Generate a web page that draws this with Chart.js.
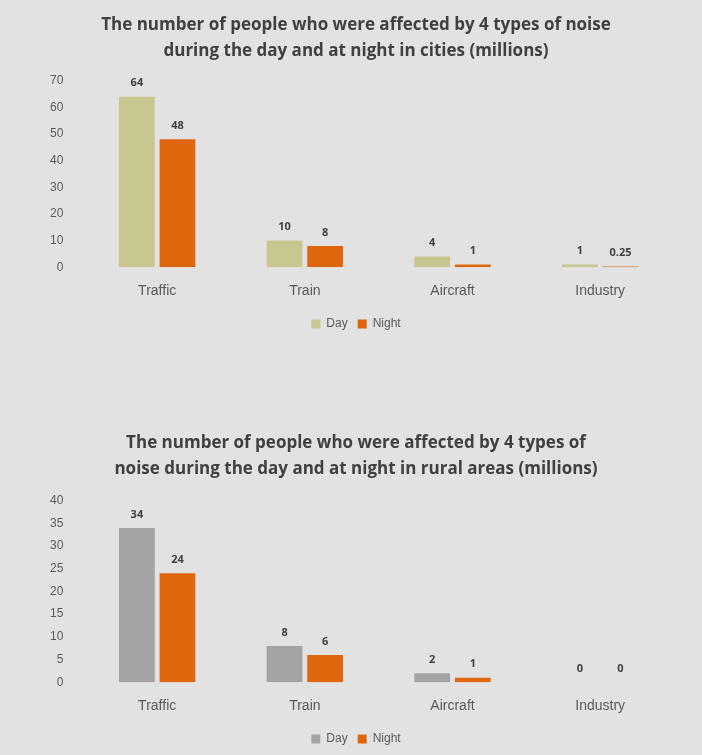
<!DOCTYPE html>
<html><head><meta charset="utf-8">
<script src="https://cdn.jsdelivr.net/npm/chart.js@4"></script>
<style>
body{margin:0;background:#e2e2e2;width:702px;height:755px;position:relative;overflow:hidden;font-family:"Open Sans",sans-serif}
.w{position:absolute;left:0;width:702px}
</style></head><body>
<div class="w" style="top:0;height:340px"><canvas id="c1"></canvas></div>
<div class="w" style="top:420px;height:335px"><canvas id="c2"></canvas></div>
<script>
const categories=["Traffic","Train","Aircraft","Industry"];
const cityDay=[64,10,4,1];
const cityNight=[48,8,1,0.25];
const ruralDay=[34,8,2,0];
const ruralNight=[24,6,1,0];
const cityTicks=[0,10,20,30,40,50,60,70];
const ruralTicks=[0,5,10,15,20,25,30,35,40];

const valLabels={id:'vl',afterDatasetsDraw(ch){const c=ch.ctx;c.save();c.font='bold 11px "Open Sans"';c.fillStyle='#404040';c.textAlign='center';c.textBaseline='bottom';
ch.data.datasets.forEach((d,i)=>{ch.getDatasetMeta(i).data.forEach((b,j)=>{c.fillText(String(d.data[j]),b.x,b.y-8);});});c.restore();}};

function make(id,title,day,night,dayCol,max,step,tp,tb,lp){
 new Chart(document.getElementById(id),{type:'bar',
 data:{labels:categories,datasets:[
  {label:'Day',data:day,backgroundColor:dayCol,categoryPercentage:0.55,barPercentage:0.88},
  {label:'Night',data:night,backgroundColor:'#e0660e',categoryPercentage:0.55,barPercentage:0.88}]},
 options:{responsive:true,maintainAspectRatio:false,animation:false,
  layout:{padding:{left:38,right:28,top:0,bottom:lp}},
  plugins:{title:{display:true,text:title,color:'#404040',font:{size:17,weight:'bold',family:'"Open Sans"',lineHeight:1.55},padding:{top:tp,bottom:tb}},
   legend:{position:'bottom',labels:{boxWidth:9,boxHeight:9,color:'#595959',font:{size:12}}},tooltip:{enabled:false}},
  scales:{x:{grid:{display:false},border:{display:false},ticks:{color:'#595959',font:{size:14},padding:8}},
   y:{min:0,max:max,ticks:{stepSize:step,color:'#595959',font:{size:12},padding:12},grid:{display:false},border:{display:false}}}},
 plugins:[valLabels]});
}
make('c1',['The number of people who were affected by 4 types of noise','during the day and at night in cities (millions)'],cityDay,cityNight,'#c8c78f',70,10,12,16,0);
make('c2',['The number of people who were affected by 4 types of','noise during the day and at night in rural areas (millions)'],ruralDay,ruralNight,'#a3a3a3',40,5,10,18,0);
</script></body></html>
